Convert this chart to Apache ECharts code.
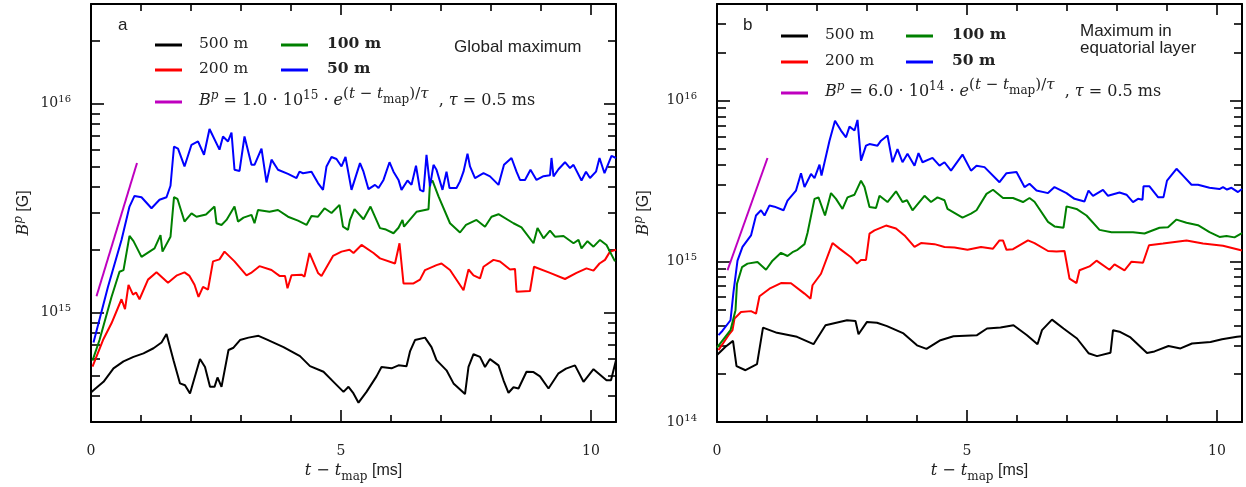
<!DOCTYPE html>
<html><head><meta charset="utf-8">
<script src="https://cdn.jsdelivr.net/npm/echarts@6/dist/echarts.min.js"></script>
<style>html,body{margin:0;padding:0;background:#fff}#c{width:1246px;height:487px}</style>
</head><body><div id="c"></div>
<script>
// ---------------- data (t - t_map in ms, B^p in G) ----------------
const a_500m = [[0.01,4.18e14],[0.09,4.34e14],[0.25,4.67e14],[0.45,5.42e14],[0.65,5.85e14],[0.85,6.15e14],[1.05,6.39e14],[1.25,6.76e14],[1.41,7.2e14],[1.51,7.9e14],[1.65,5.93e14],[1.78,4.59e14],[1.88,4.5e14],[1.98,4.11e14],[2.18,6.0e14],[2.28,5.5e14],[2.38,4.42e14],[2.47,4.42e14],[2.53,4.9e14],[2.61,4.42e14],[2.75,6.63e14],[2.85,6.8e14],[2.98,7.4e14],[3.15,7.6e14],[3.35,7.75e14],[3.51,7.45e14],[3.85,6.85e14],[4.18,6.2e14],[4.38,5.55e14],[4.65,5.22e14],[4.85,4.67e14],[5.05,4.18e14],[5.15,4.42e14],[5.25,4.11e14],[5.35,3.71e14],[5.51,4.18e14],[5.71,4.96e14],[5.81,5.5e14],[6.01,5.42e14],[6.15,5.6e14],[6.31,5.55e14],[6.38,6.53e14],[6.48,7.4e14],[6.68,7.6e14],[6.81,6.85e14],[6.91,5.93e14],[7.11,5.3e14],[7.25,4.59e14],[7.48,4.08e14],[7.55,5.5e14],[7.65,6.33e14],[7.78,6.15e14],[7.88,5.5e14],[7.98,6.0e14],[8.15,5.6e14],[8.25,4.75e14],[8.35,4.14e14],[8.45,4.4e14],[8.55,4.34e14],[8.71,5.22e14],[8.85,5.2e14],[8.98,4.96e14],[9.15,4.34e14],[9.35,5.13e14],[9.5,5.4e14],[9.68,5.6e14],[9.85,4.67e14],[10.05,5.37e14],[10.31,4.75e14],[10.4,4.75e14],[10.5,5.93e14]];
const a_200m = [[0.03,5.52e14],[0.24,7.4e14],[0.41,8.9e14],[0.61,1.16e15],[0.68,1.04e15],[0.75,1.36e15],[0.84,1.22e15],[0.9,1.25e15],[0.97,1.16e15],[1.14,1.44e15],[1.31,1.56e15],[1.54,1.39e15],[1.72,1.51e15],[1.87,1.56e15],[1.97,1.5e15],[2.07,1.36e15],[2.15,1.19e15],[2.24,1.33e15],[2.34,1.29e15],[2.44,1.76e15],[2.57,1.8e15],[2.67,1.96e15],[2.87,1.76e15],[3.11,1.51e15],[3.2,1.55e15],[3.37,1.67e15],[3.61,1.6e15],[3.77,1.5e15],[3.88,1.5e15],[3.93,1.31e15],[4.01,1.51e15],[4.21,1.52e15],[4.27,1.49e15],[4.37,1.93e15],[4.54,1.55e15],[4.61,1.5e15],[4.84,1.87e15],[5.01,1.96e15],[5.17,2.0e15],[5.25,1.93e15],[5.41,2.11e15],[5.65,1.93e15],[5.78,1.82e15],[6.08,1.72e15],[6.17,2.15e15],[6.25,1.38e15],[6.45,1.38e15],[6.58,1.44e15],[6.68,1.6e15],[6.91,1.69e15],[7.01,1.72e15],[7.18,1.6e15],[7.45,1.28e15],[7.55,1.61e15],[7.65,1.51e15],[7.78,1.46e15],[7.85,1.66e15],[8.05,1.79e15],[8.18,1.76e15],[8.38,1.61e15],[8.48,1.62e15],[8.51,1.26e15],[8.78,1.27e15],[8.86,1.66e15],[9.18,1.55e15],[9.48,1.45e15],[9.71,1.55e15],[9.91,1.63e15],[10.05,1.59e15],[10.17,1.72e15],[10.28,1.79e15],[10.38,1.96e15],[10.5,2.0e15]];
const a_100m = [[0.03,5.9e14],[0.17,7.4e14],[0.41,1.19e15],[0.57,1.57e15],[0.65,1.6e15],[0.77,2.33e15],[0.85,2.2e15],[1.01,1.85e15],[1.17,1.96e15],[1.27,2.03e15],[1.39,2.35e15],[1.43,1.96e15],[1.59,2.31e15],[1.66,3.57e15],[1.73,3.5e15],[1.87,2.73e15],[2.01,2.99e15],[2.11,2.88e15],[2.3,2.95e15],[2.47,3.22e15],[2.51,2.68e15],[2.61,2.63e15],[2.71,2.78e15],[2.87,3.22e15],[2.94,2.73e15],[3.05,2.85e15],[3.21,2.94e15],[3.27,2.68e15],[3.34,3.1e15],[3.57,3.04e15],[3.74,3.1e15],[3.94,2.88e15],[4.14,2.76e15],[4.31,2.63e15],[4.41,2.9e15],[4.54,2.88e15],[4.67,3.16e15],[4.81,3.0e15],[4.97,3.28e15],[5.04,2.58e15],[5.14,2.49e15],[5.18,2.78e15],[5.27,3.13e15],[5.45,2.8e15],[5.59,3.22e15],[5.78,2.54e15],[5.9,2.5e15],[6.05,2.4e15],[6.15,2.55e15],[6.23,2.78e15],[6.26,2.58e15],[6.51,3.04e15],[6.75,3.13e15],[6.78,4.17e15],[6.83,4.29e15],[6.95,3.6e15],[7.18,2.68e15],[7.38,2.42e15],[7.5,2.63e15],[7.71,2.78e15],[7.88,2.58e15],[8.01,2.88e15],[8.15,2.96e15],[8.45,2.68e15],[8.61,2.56e15],[8.85,2.15e15],[8.93,2.54e15],[9.05,2.27e15],[9.18,2.47e15],[9.28,2.31e15],[9.45,2.33e15],[9.65,2.15e15],[9.75,2.23e15],[9.81,2.03e15],[9.93,2.2e15],[10.05,2.07e15],[10.18,2.23e15],[10.31,2.11e15],[10.48,1.76e15]];
const a_50m = [[0.05,7.2e14],[0.34,1.33e15],[0.61,2.23e15],[0.77,3.22e15],[0.87,3.62e15],[1.01,3.57e15],[1.21,3.16e15],[1.37,3.47e15],[1.51,3.57e15],[1.59,4.05e15],[1.66,6.24e15],[1.74,6.1e15],[1.87,5.01e15],[2.01,6.36e15],[2.14,6.6e15],[2.26,5.7e15],[2.37,7.57e15],[2.57,6.03e15],[2.64,6.97e15],[2.74,6.6e15],[2.81,7.28e15],[2.87,4.83e15],[2.97,4.77e15],[3.07,6.97e15],[3.21,5.1e15],[3.27,5.1e15],[3.41,6.1e15],[3.51,4.2e15],[3.61,5.4e15],[3.74,4.83e15],[3.94,4.62e15],[4.11,4.41e15],[4.17,4.73e15],[4.24,4.65e15],[4.41,4.73e15],[4.54,4.17e15],[4.64,3.87e15],[4.71,5.01e15],[4.81,5.56e15],[4.91,5.44e15],[5.01,5.01e15],[5.09,5.56e15],[5.21,3.87e15],[5.25,3.8e15],[5.38,5.2e15],[5.45,4.73e15],[5.55,3.9e15],[5.68,4.09e15],[5.75,3.95e15],[5.85,4.32e15],[5.97,5.25e15],[6.05,4.73e15],[6.15,4.32e15],[6.21,3.87e15],[6.33,4.29e15],[6.41,4.09e15],[6.5,5.05e15],[6.58,3.87e15],[6.65,3.8e15],[6.71,5.7e15],[6.78,4.02e15],[6.85,5.1e15],[6.91,4.83e15],[7.03,3.87e15],[7.11,4.73e15],[7.17,3.95e15],[7.31,3.95e15],[7.38,4.25e15],[7.45,4.73e15],[7.53,5.77e15],[7.58,5.01e15],[7.68,4.41e15],[7.85,4.65e15],[7.98,4.49e15],[8.15,4.09e15],[8.26,5.1e15],[8.41,5.5e15],[8.51,4.73e15],[8.58,4.32e15],[8.68,4.32e15],[8.79,4.83e15],[8.91,4.32e15],[9.05,4.5e15],[9.18,4.55e15],[9.21,5.5e15],[9.25,4.49e15],[9.35,4.86e15],[9.48,5.25e15],[9.58,4.92e15],[9.65,5.1e15],[9.81,4.29e15],[9.9,4.73e15],[9.98,4.41e15],[10.1,4.73e15],[10.17,5.5e15],[10.27,4.65e15],[10.41,5.63e15],[10.5,5.5e15]];
const a_fit = [[0.11,1.2e15],[0.92,5.2e15]];

const b_500m = [[0.0,2.61e14],[0.17,2.94e14],[0.32,3.2e14],[0.39,2.23e14],[0.57,2.1e14],[0.8,2.29e14],[0.92,3.87e14],[1.2,3.59e14],[1.6,3.39e14],[1.93,3.05e14],[2.17,4.0e14],[2.6,4.3e14],[2.77,4.25e14],[2.83,3.52e14],[3.0,4.2e14],[3.2,4.15e14],[3.4,3.95e14],[3.73,3.56e14],[4.0,3.0e14],[4.19,2.85e14],[4.47,3.23e14],[4.73,3.42e14],[5.2,3.47e14],[5.4,3.82e14],[5.67,3.87e14],[5.93,4.0e14],[6.2,3.47e14],[6.41,3.05e14],[6.5,3.73e14],[6.7,4.34e14],[6.93,3.82e14],[7.2,3.31e14],[7.43,2.68e14],[7.6,2.57e14],[7.87,2.7e14],[7.92,3.73e14],[8.05,3.65e14],[8.27,3.36e14],[8.6,2.69e14],[8.75,2.75e14],[9.03,2.97e14],[9.27,2.87e14],[9.5,3.08e14],[9.87,3.15e14],[10.1,3.27e14],[10.4,3.39e14],[10.5,3.42e14]];
const b_200m = [[0.03,2.8e14],[0.23,3.47e14],[0.31,3.73e14],[0.35,4.4e14],[0.48,4.84e14],[0.68,4.9e14],[0.78,4.72e14],[0.85,6.07e14],[1.05,6.76e14],[1.28,7.33e14],[1.48,7.3e14],[1.75,6.3e14],[1.87,5.86e14],[1.91,7.1e14],[2.08,8.37e14],[2.31,1.3e15],[2.45,1.2e15],[2.68,1.06e15],[2.8,9.68e14],[2.88,1.02e15],[2.98,1.02e15],[3.05,1.49e15],[3.15,1.56e15],[3.38,1.67e15],[3.58,1.6e15],[3.75,1.45e15],[3.95,1.23e15],[4.08,1.3e15],[4.35,1.28e15],[4.55,1.23e15],[4.75,1.22e15],[5.01,1.18e15],[5.28,1.23e15],[5.52,1.2e15],[5.65,1.35e15],[5.72,1.35e15],[5.79,1.18e15],[5.92,1.19e15],[6.22,1.35e15],[6.35,1.3e15],[6.62,1.16e15],[6.79,1.15e15],[6.95,1.16e15],[7.05,7.8e14],[7.19,7.33e14],[7.25,8.8e14],[7.45,9.3e14],[7.59,1.01e15],[7.85,8.87e14],[7.95,9.58e14],[8.15,8.8e14],[8.29,9.96e14],[8.52,9.8e14],[8.64,1.26e15],[8.92,1.29e15],[9.39,1.35e15],[9.72,1.29e15],[10.12,1.25e15],[10.5,1.17e15]];
const b_100m = [[0.0,2.9e14],[0.27,3.73e14],[0.37,4.97e14],[0.4,7.26e14],[0.5,9.2e14],[0.61,9.68e14],[0.81,9.9e14],[0.98,8.87e14],[1.11,1.01e15],[1.28,1.13e15],[1.41,1.08e15],[1.51,1.14e15],[1.61,1.18e15],[1.75,1.28e15],[1.81,1.5e15],[1.95,2.45e15],[2.03,2.5e15],[2.16,1.93e15],[2.28,2.66e15],[2.38,2.45e15],[2.51,2.12e15],[2.61,2.5e15],[2.75,2.6e15],[2.88,3.18e15],[2.95,2.9e15],[3.05,2.18e15],[3.18,2.15e15],[3.25,2.56e15],[3.41,2.34e15],[3.58,2.73e15],[3.71,2.34e15],[3.8,2.4e15],[3.91,2.08e15],[4.15,2.56e15],[4.28,2.34e15],[4.41,2.5e15],[4.55,2.4e15],[4.61,2.12e15],[4.91,1.87e15],[5.08,1.98e15],[5.19,2.08e15],[5.39,2.63e15],[5.52,2.79e15],[5.72,2.48e15],[5.92,2.48e15],[6.12,2.34e15],[6.25,2.48e15],[6.35,2.35e15],[6.62,1.76e15],[6.75,1.65e15],[6.93,1.62e15],[6.99,2.2e15],[7.19,2.12e15],[7.39,1.93e15],[7.65,1.57e15],[7.89,1.52e15],[8.12,1.52e15],[8.32,1.52e15],[8.55,1.49e15],[8.85,1.62e15],[9.02,1.63e15],[9.19,1.82e15],[9.39,1.74e15],[9.62,1.68e15],[9.85,1.52e15],[10.05,1.42e15],[10.19,1.44e15],[10.35,1.41e15],[10.5,1.5e15]];
const b_50m = [[0.03,3.47e14],[0.11,3.7e14],[0.27,4.3e14],[0.33,6.45e14],[0.41,1.01e15],[0.51,1.23e15],[0.68,1.45e15],[0.78,1.93e15],[0.88,2.08e15],[0.95,1.93e15],[1.05,2.23e15],[1.15,2.19e15],[1.33,2.08e15],[1.41,2.39e15],[1.58,2.76e15],[1.68,3.54e15],[1.75,2.9e15],[1.88,3.5e15],[1.95,3.3e15],[2.05,4.0e15],[2.09,3.42e15],[2.25,5.64e15],[2.36,7.51e15],[2.48,6.52e15],[2.58,5.92e15],[2.65,6.9e15],[2.75,6.52e15],[2.81,7.59e15],[2.88,4.24e15],[2.98,5.25e15],[3.05,5.37e15],[3.21,5.25e15],[3.28,5.64e15],[3.41,6.07e15],[3.51,4.14e15],[3.61,5.0e15],[3.71,4.14e15],[3.81,4.67e15],[3.95,3.94e15],[4.03,4.72e15],[4.11,4.14e15],[4.31,4.41e15],[4.45,3.94e15],[4.55,4.14e15],[4.68,3.67e15],[4.91,4.62e15],[5.08,3.67e15],[5.19,3.94e15],[5.35,3.86e15],[5.65,3.11e15],[5.79,3.54e15],[5.99,3.6e15],[6.15,2.9e15],[6.25,3.04e15],[6.39,2.76e15],[6.62,2.66e15],[6.75,2.9e15],[6.99,2.66e15],[7.15,2.45e15],[7.35,2.36e15],[7.43,2.76e15],[7.52,2.56e15],[7.72,2.79e15],[7.82,2.56e15],[8.05,2.68e15],[8.19,2.6e15],[8.32,2.34e15],[8.42,2.45e15],[8.51,2.42e15],[8.53,2.93e15],[8.65,2.93e15],[8.82,2.51e15],[8.93,2.51e15],[9.0,3.18e15],[9.19,3.77e15],[9.32,3.42e15],[9.49,3.0e15],[9.62,3.0e15],[9.85,2.87e15],[10.05,2.82e15],[10.12,2.9e15],[10.2,2.8e15],[10.29,2.87e15],[10.42,2.7e15],[10.5,2.82e15]];
const b_fit = [[0.21,8.8e14],[1.01,4.4e15]];

// ---------------- axes / ticks ----------------
const xRange = [0, 10.5];
const xMajorTicks = [0, 5, 10];
const xMinorTicks = [1, 2, 3, 4, 6, 7, 8, 9];
const yRangeA = [3e14, 3e16];
const yRangeB = [1e14, 4e16];
const yDecades = [1e14, 1e15, 1e16];
const yMinorMultipliers = [2, 3, 4, 5, 6, 7, 8, 9];

const SERIF = 'DejaVu Serif';
const SANS = 'Liberation Sans';
const TXT = '#222';
const COLORS = {m500: '#000000', m200: '#ff0000', m100: '#008000', m50: '#0000ff', fit: '#bf00bf'};

const lg = Math.log10;
const toLog = arr => arr.map(p => [p[0], lg(p[1])]);

function mathRich(base, lh) {
  const pb = 5;
  const mk = (o) => Object.assign({fontFamily: SERIF, color: TXT, lineHeight: lh, verticalAlign: 'bottom'}, o);
  return {
    n: mk({fontSize: base, padding: [0, 0, pb, 0]}),
    i: mk({fontSize: base, fontStyle: 'italic', padding: [0, 0, pb, 0]}),
    bd: mk({fontSize: base, fontWeight: 'bold', padding: [0, 0, pb, 0]}),
    sup: mk({fontSize: Math.round(base * 0.72), padding: [0, 0, pb + Math.round(base * 0.42), 0]}),
    supi: mk({fontSize: Math.round(base * 0.72), fontStyle: 'italic', padding: [0, 0, pb + Math.round(base * 0.42), 0]}),
    ex: mk({fontSize: Math.round(base * 0.92), padding: [0, 0, pb + Math.round(base * 0.45), 0]}),
    exi: mk({fontSize: Math.round(base * 0.92), fontStyle: 'italic', padding: [0, 0, pb + Math.round(base * 0.45), 0]}),
    exs: mk({fontSize: Math.round(base * 0.74), padding: [0, 0, pb + Math.round(base * 0.2), 0]}),
    sub: mk({fontSize: Math.round(base * 0.72), padding: [0, 0, Math.max(0, pb - 4), 0]}),
    s: mk({fontFamily: SANS, fontSize: base, padding: [0, 0, pb, 0]})
  };
}
const richTick = mathRich(14, 24);
const LH = 24;
const richLeg = mathRich(15.5, LH);
const richFit = mathRich(16, LH);
const richName = mathRich(16, 24);

function yMinor(range) {
  const out = [];
  yDecades.forEach(d => yMinorMultipliers.forEach(k => {
    const v = k * d;
    if (v > range[0] * 1.0001 && v < range[1] * 0.9999) out.push(lg(v));
  }));
  return out;
}
function yMajor(range) {
  return yDecades.filter(v => v >= range[0] * 0.9999 && v <= range[1] * 1.0001).map(lg);
}

const grids = [
  {left: 91, top: 4, width: 525, height: 418, outerBoundsMode: 'none'},
  {left: 717, top: 4, width: 525, height: 418, outerBoundsMode: 'none'}
];

const xAxes = [], yAxes = [];
const LINE = {show: true, onZero: false, lineStyle: {color: '#000', width: 2}};
const NOLINE = {show: false, onZero: false};
function addAxes(g, yr, yNameGap) {
  const tickStyle = {color: '#000', width: 1.6};
  const base = {gridIndex: g, type: 'value', min: xRange[0], max: xRange[1], splitLine: {show: false}};
  xAxes.push(Object.assign({}, base, {
    position: 'bottom', axisLine: LINE,
    axisTick: {show: true, inside: true, length: 12, lineStyle: tickStyle, customValues: xMajorTicks},
    axisLabel: {show: true, customValues: xMajorTicks, margin: 22, fontFamily: SERIF, fontSize: 14, color: TXT},
    name: '{i|t}{n| − }{i|t}{sub|map}{s| [ms]}', nameLocation: 'middle', nameGap: 28,
    nameTextStyle: {rich: richName}
  }));
  xAxes.push(Object.assign({}, base, {
    position: 'bottom', axisLine: NOLINE,
    axisTick: {show: true, inside: true, length: 7, lineStyle: tickStyle, customValues: xMinorTicks},
    axisLabel: {show: false}
  }));
  xAxes.push(Object.assign({}, base, {
    position: 'top', axisLine: LINE,
    axisTick: {show: true, inside: true, length: 11, lineStyle: tickStyle, customValues: xMajorTicks},
    axisLabel: {show: false}
  }));
  xAxes.push(Object.assign({}, base, {
    position: 'top', axisLine: NOLINE,
    axisTick: {show: true, inside: true, length: 7, lineStyle: tickStyle, customValues: xMinorTicks},
    axisLabel: {show: false}
  }));
  const ybase = {gridIndex: g, type: 'value', min: lg(yr[0]), max: lg(yr[1]), splitLine: {show: false}};
  const maj = yMajor(yr), mnr = yMinor(yr);
  yAxes.push(Object.assign({}, ybase, {
    position: 'left', axisLine: LINE,
    axisTick: {show: true, inside: true, length: 13, lineStyle: tickStyle, customValues: maj},
    axisLabel: {show: true, customValues: maj, margin: 20, formatter: v => '{n|10}{sup|' + Math.round(v) + '}', rich: richTick},
    name: '{i|B}{supi|p}{s| [G]}', nameLocation: 'middle', nameGap: yNameGap, nameRotate: 90,
    nameTextStyle: {rich: richName}
  }));
  yAxes.push(Object.assign({}, ybase, {
    position: 'left', axisLine: NOLINE,
    axisTick: {show: true, inside: true, length: 9, lineStyle: tickStyle, customValues: mnr},
    axisLabel: {show: false}
  }));
  yAxes.push(Object.assign({}, ybase, {
    position: 'right', axisLine: LINE,
    axisTick: {show: true, inside: true, length: 12, lineStyle: tickStyle, customValues: maj},
    axisLabel: {show: false}
  }));
  yAxes.push(Object.assign({}, ybase, {
    position: 'right', axisLine: NOLINE,
    axisTick: {show: true, inside: true, length: 8, lineStyle: tickStyle, customValues: mnr},
    axisLabel: {show: false}
  }));
}
addAxes(0, yRangeA, 54);
addAxes(1, yRangeB, 60);

function line(name, data, color, g, z) {
  return {
    name, type: 'line', xAxisIndex: g * 4, yAxisIndex: g * 4, data: toLog(data),
    showSymbol: false, symbol: 'none', color, z: z,
    lineStyle: {color, width: 2}, emphasis: {disabled: true}
  };
}
const series = [
  line('a500', a_500m, COLORS.m500, 0, 2), line('a200', a_200m, COLORS.m200, 0, 3),
  line('a100', a_100m, COLORS.m100, 0, 4), line('a50', a_50m, COLORS.m50, 0, 5), line('afit', a_fit, COLORS.fit, 0, 6),
  line('b500', b_500m, COLORS.m500, 1, 2), line('b200', b_200m, COLORS.m200, 1, 3),
  line('b100', b_100m, COLORS.m100, 1, 4), line('b50', b_50m, COLORS.m50, 1, 5), line('bfit', b_fit, COLORS.fit, 1, 6)
];

const FIT_TAIL = '{n| · }{i|e}{ex|(}{exi|t}{ex| − }{exi|t}{exs|map}{ex|)/}{exi|τ}{n|  , }{i|τ}{n| = 0.5 ms}';
const LEG_TEXT = {
  a500: '{n|500 m}', a200: '{n|200 m}', a100: '{bd|100 m}', a50: '{bd|50 m}',
  afit: '{i|B}{supi|p}{n| = 1.0 · 10}{sup|15}' + FIT_TAIL,
  b500: '{n|500 m}', b200: '{n|200 m}', b100: '{bd|100 m}', b50: '{bd|50 m}',
  bfit: '{i|B}{supi|p}{n| = 6.0 · 10}{sup|14}' + FIT_TAIL
};
function leg(name, left, cy, padL, rich, dy) {
  return {
    data: [name], left: left, top: cy - (dy || 8), orient: 'horizontal', padding: 0,
    itemWidth: 27, itemHeight: 3, icon: 'rect', selectedMode: false,
    formatter: n => LEG_TEXT[n],
    textStyle: {rich: rich || richLeg, padding: [0, 0, 0, padL]}
  };
}
const legends = [
  leg('a500', 155, 44, 12), leg('a200', 155, 69, 12), leg('afit', 155, 97, 12, richFit, 10),
  leg('a100', 281, 44, 14), leg('a50', 281, 69, 14),
  leg('b500', 781, 35, 12), leg('b200', 781, 61, 12), leg('bfit', 781, 88, 12, richFit, 10),
  leg('b100', 906, 35, 14), leg('b50', 906, 61, 14)
];

const sansText = (text, x, y) => ({type: 'text', x, y, style: {text, fill: TXT, font: '17px "' + SANS + '"', verticalAlign: 'middle', align: 'left'}});

const chart = echarts.init(document.getElementById('c'), null, {renderer: 'canvas'});
chart.setOption({
  animation: false,
  backgroundColor: '#fff',
  grid: grids,
  xAxis: xAxes,
  yAxis: yAxes,
  legend: legends,
  series: series,
  graphic: [
    sansText('a', 118, 25),
    sansText('Global maximum', 454, 47),
    sansText('b', 743, 25),
    sansText('Maximum in', 1080, 31),
    sansText('equatorial layer', 1080, 48)
  ]
});
</script></body></html>
